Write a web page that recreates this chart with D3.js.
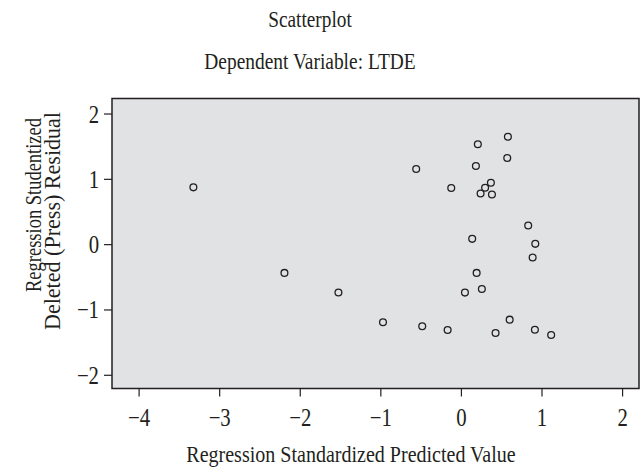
<!DOCTYPE html>
<html><head><meta charset="utf-8">
<script src="https://cdn.jsdelivr.net/npm/d3@7"></script>
<style>body{margin:0;background:#fff}svg{display:block}text{font-family:"Liberation Serif","Times New Roman",serif;fill:#231f20}</style>
</head><body>
<svg id="c" width="642" height="468"></svg>
<script>
const xVals = [-3.32,-2.19,-1.52,-0.555,0.21,0.583,0.575,0.186,-0.12,0.372,0.30,0.244,0.385,0.835,0.14,0.923,0.89,0.195,0.26,0.05,-0.967,-0.48,-0.165,0.43,0.605,0.918,1.12];
const yVals = [0.87,-0.44,-0.74,1.15,1.53,1.645,1.32,1.196,0.86,0.94,0.864,0.776,0.761,0.285,0.081,0.005,-0.205,-0.44,-0.686,-0.742,-1.196,-1.258,-1.314,-1.36,-1.156,-1.31,-1.39];
const xTicks = [-4,-3,-2,-1,0,1,2];
const yTicks = [-2,-1,0,1,2];
const title = "Scatterplot";
const subtitle = "Dependent Variable: LTDE";
const xLabel = "Regression Standardized Predicted Value";
const yLabel = ["Regression Studentized","Deleted (Press) Residual"];

const svg = d3.select("#c");
const L=112, R=639, T=98.5, B=388.5;
const x = d3.scaleLinear().domain([-4.33,2.21]).range([L,R]);
const y = d3.scaleLinear().domain([-2.21,2.23]).range([B,T]);
const fmt = d => d<0 ? "\u2212"+Math.abs(d) : String(d);
const SX = 0.83;

svg.append("rect").attr("x",L).attr("y",T).attr("width",R-L).attr("height",B-T)
  .attr("fill","#e1e2e4").attr("stroke","#231f20").attr("stroke-width",1.5);

const gx = svg.append("g").attr("transform",`translate(0,${B})`)
  .call(d3.axisBottom(x).tickValues(xTicks).tickFormat(fmt).tickSize(8).tickPadding(0));
gx.select(".domain").remove();
gx.selectAll(".tick line").attr("stroke","#231f20").attr("stroke-width",1.2);
gx.selectAll(".tick text").remove();
gx.selectAll(".tick").append("g").attr("transform",`translate(0,37) scale(${SX},1)`)
  .append("text").attr("text-anchor","middle").style("font-size","25px").text(d=>fmt(d));

const gy = svg.append("g").attr("transform",`translate(${L},0)`)
  .call(d3.axisLeft(y).tickValues(yTicks).tickFormat(fmt).tickSize(8).tickPadding(0));
gy.select(".domain").remove();
gy.selectAll(".tick line").attr("stroke","#231f20").attr("stroke-width",1.2);
gy.selectAll(".tick text").remove();
gy.selectAll(".tick").append("g").attr("transform",`translate(-13,8.5) scale(${SX},1)`)
  .append("text").attr("text-anchor","end").style("font-size","25px").text(d=>fmt(d));

const pts = xVals.map((v,i)=>({x:v,y:yVals[i]}));
svg.append("g").selectAll("circle").data(pts).join("circle")
  .attr("cx",d=>x(d.x)).attr("cy",d=>y(d.y)).attr("r",3.4)
  .attr("fill","none").attr("stroke","#231f20").attr("stroke-width",1.3);

function label(tx,ty,txt,size,sx){
  const g = svg.append("g").attr("transform",`translate(${tx},${ty})`);
  g.append("g").attr("transform", `scale(${sx},1)`)
   .append("text").attr("text-anchor","middle").style("font-size",size+"px").text(txt);
}
function vlabel(tx,ty,txt,size,len){
  svg.append("g").attr("transform",`translate(${tx},${ty}) rotate(-90)`)
   .append("text").attr("text-anchor","middle").style("font-size",size+"px")
   .attr("textLength",len).attr("lengthAdjust","spacingAndGlyphs").text(txt);
}
label(310,27,title,23,0.84);
label(310,69,subtitle,23,0.845);
label(351,462,xLabel,24,0.835);
vlabel(41,205,yLabel[0],23,174);
vlabel(60,221,yLabel[1],23,218);
</script>
</body></html>
